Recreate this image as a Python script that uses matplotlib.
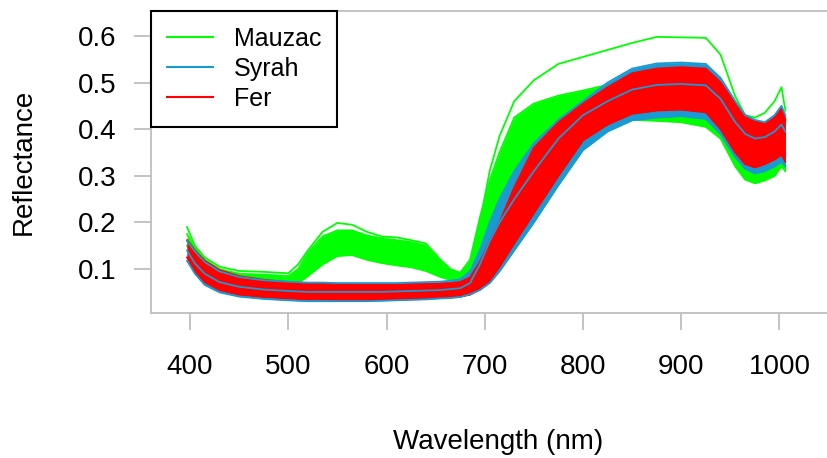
import matplotlib
matplotlib.use("Agg")
import matplotlib.pyplot as plt
import numpy as np

plt.rcParams['font.family'] = ['Liberation Sans', 'DejaVu Sans']

# ---- data ----
wavelength = [397, 405, 415, 430, 450, 475, 500, 510, 520, 535, 550, 565, 580, 595,
              610, 625, 640, 655, 665, 675, 685, 695, 705, 715, 730, 750, 775, 800,
              825, 850, 875, 900, 925, 940, 955, 965, 975, 985, 995, 1002, 1006]

mauzac_low = [0.150, 0.120, 0.095, 0.080, 0.070, 0.065, 0.065, 0.070, 0.085, 0.110, 0.128,
              0.130, 0.120, 0.113, 0.108, 0.104, 0.096, 0.083, 0.077, 0.075, 0.083, 0.120,
              0.200, 0.250, 0.310, 0.340, 0.370, 0.400, 0.410, 0.420, 0.418, 0.415, 0.405,
              0.380, 0.320, 0.292, 0.284, 0.290, 0.300, 0.320, 0.310]
mauzac_high = [0.175, 0.145, 0.120, 0.100, 0.090, 0.088, 0.085, 0.100, 0.135, 0.170, 0.183,
               0.183, 0.172, 0.166, 0.162, 0.158, 0.150, 0.115, 0.098, 0.092, 0.120, 0.210,
               0.290, 0.350, 0.425, 0.455, 0.472, 0.483, 0.495, 0.505, 0.510, 0.510, 0.505,
               0.480, 0.430, 0.400, 0.390, 0.395, 0.410, 0.430, 0.400]
mauzac_outlier = [0.190, 0.150, 0.125, 0.105, 0.096, 0.094, 0.091, 0.110, 0.140, 0.180, 0.199,
                  0.195, 0.180, 0.170, 0.168, 0.162, 0.155, 0.120, 0.100, 0.092, 0.110, 0.200,
                  0.310, 0.385, 0.460, 0.505, 0.540, 0.555, 0.570, 0.585, 0.598, 0.597, 0.596,
                  0.560, 0.470, 0.430, 0.425, 0.435, 0.460, 0.490, 0.440]

syrah_low = [0.118, 0.090, 0.066, 0.050, 0.041, 0.036, 0.033, 0.032, 0.031, 0.031, 0.031,
             0.031, 0.031, 0.032, 0.033, 0.034, 0.035, 0.037, 0.038, 0.040, 0.046, 0.055,
             0.070, 0.095, 0.140, 0.200, 0.280, 0.355, 0.395, 0.419, 0.425, 0.428, 0.422,
             0.390, 0.340, 0.315, 0.305, 0.310, 0.320, 0.330, 0.320]
syrah_high = [0.160, 0.138, 0.115, 0.095, 0.083, 0.076, 0.073, 0.072, 0.071, 0.071, 0.070,
              0.070, 0.070, 0.070, 0.070, 0.071, 0.072, 0.073, 0.075, 0.078, 0.095, 0.140,
              0.200, 0.250, 0.310, 0.370, 0.420, 0.460, 0.500, 0.530, 0.541, 0.543, 0.540,
              0.510, 0.460, 0.430, 0.420, 0.415, 0.430, 0.450, 0.430]
syrah_mid = [0.140, 0.112, 0.090, 0.072, 0.062, 0.056, 0.053, 0.052, 0.051, 0.051, 0.051,
             0.051, 0.051, 0.051, 0.052, 0.053, 0.054, 0.055, 0.057, 0.059, 0.070, 0.110,
             0.160, 0.200, 0.250, 0.310, 0.380, 0.430, 0.460, 0.485, 0.495, 0.497, 0.494,
             0.465, 0.415, 0.390, 0.380, 0.383, 0.395, 0.410, 0.395]

fer_low = [0.125, 0.095, 0.072, 0.055, 0.045, 0.040, 0.037, 0.036, 0.035, 0.035, 0.034,
           0.034, 0.034, 0.034, 0.035, 0.036, 0.037, 0.038, 0.040, 0.041, 0.045, 0.056,
           0.075, 0.105, 0.155, 0.220, 0.300, 0.376, 0.410, 0.433, 0.440, 0.442, 0.436,
           0.400, 0.350, 0.325, 0.318, 0.325, 0.335, 0.345, 0.330]
fer_high = [0.162, 0.140, 0.118, 0.098, 0.085, 0.077, 0.072, 0.071, 0.070, 0.069, 0.068,
            0.067, 0.067, 0.067, 0.067, 0.068, 0.068, 0.069, 0.070, 0.072, 0.082, 0.115,
            0.160, 0.200, 0.275, 0.360, 0.415, 0.455, 0.490, 0.520, 0.530, 0.533, 0.530,
            0.500, 0.455, 0.430, 0.418, 0.412, 0.425, 0.445, 0.420]

legend_labels = ["Mauzac", "Syrah", "Fer"]
x_ticks = [400, 500, 600, 700, 800, 900, 1000]
y_ticks = [0.1, 0.2, 0.3, 0.4, 0.5, 0.6]

GREEN = "#00FF00"
BLUE = "#1A9AD2"
RED = "#FF0000"
GREY = "#BEBEBE"

W, H = 827, 458
fig = plt.figure(figsize=(W / 100, H / 100), dpi=100)
left_px, right_px, top_px, bot_px = 151, 831, 11, 313
ax = fig.add_axes([left_px / W, 1 - bot_px / H, (right_px - left_px) / W, (bot_px - top_px) / H])

wl = np.array(wavelength)
lw = 1.3
# Mauzac
ax.fill_between(wl, mauzac_low, mauzac_high, color=GREEN, lw=0, zorder=1)
ax.plot(wl, mauzac_low, color=GREEN, lw=lw, zorder=1)
ax.plot(wl, mauzac_high, color=GREEN, lw=lw, zorder=1)
ax.plot(wl, mauzac_outlier, color=GREEN, lw=lw, zorder=1)
# Syrah
ax.fill_between(wl, syrah_low, syrah_high, color=BLUE, lw=0, zorder=2)
# Fer
ax.fill_between(wl, fer_low, fer_high, color=RED, lw=0, zorder=3)
ax.plot(wl, fer_low, color=RED, lw=lw, zorder=3)
ax.plot(wl, fer_high, color=RED, lw=lw, zorder=3)
# Syrah lines over
ax.plot(wl, syrah_low, color=BLUE, lw=lw, zorder=4)
ax.plot(wl, syrah_high, color=BLUE, lw=lw, zorder=4)
ax.plot(wl, syrah_mid, color=BLUE, lw=lw, zorder=4)

px_per_nm = 0.9825
ax.set_xlim(400 + (left_px - 190) / px_per_nm, 400 + (right_px - 190) / px_per_nm)
px_per_unit = 467.0
ax.set_ylim(0.1 - (bot_px - 269) / px_per_unit, 0.6 + (36 - top_px) / px_per_unit)

for s in ax.spines.values():
    s.set_color(GREY)
    s.set_linewidth(1.3)

ax.set_xticks(x_ticks)
ax.set_xticklabels([str(t) for t in x_ticks])
ax.set_yticks(y_ticks)
ax.set_yticklabels([f"{t:.1f}" for t in y_ticks])
ax.tick_params(axis='x', length=12.5, width=1.3, color=GREY, pad=17, labelsize=20)
ax.tick_params(axis='y', length=12, width=1.3, color=GREY, pad=13, labelsize=20)

fig.text(24 / W, 1 - 162 / H, "Reflectance", rotation=90, ha='center', va='center', fontsize=20)
fig.text(498 / W, 1 - 442 / H, "Wavelength (nm)", ha='center', va='center', fontsize=20)

handles = [plt.Line2D([], [], color=c, lw=1.5) for c in (GREEN, BLUE, RED)]
leg = ax.legend(handles, legend_labels, loc='upper left', bbox_to_anchor=(0, 1),
                borderaxespad=0, fontsize=18, frameon=True, fancybox=False,
                edgecolor='black', framealpha=1, handlelength=1.85, handletextpad=0.85,
                labelspacing=0.25, borderpad=0.62)
leg.get_frame().set_linewidth(1.5)
leg.set_zorder(10)

fig.savefig("out.png", dpi=100)
